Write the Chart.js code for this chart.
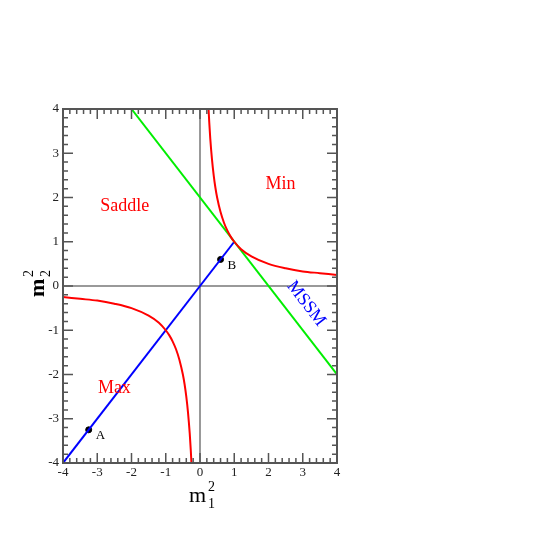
<!DOCTYPE html>
<html>
<head>
<meta charset="utf-8">
<script src="https://cdn.jsdelivr.net/npm/chart.js@4.4.0/dist/chart.umd.min.js"></script>
<style>
  html, body { margin: 0; padding: 0; background: #fff; }
  #wrap { width: 545px; height: 545px; }
</style>
</head>
<body>
<div id="wrap"><canvas id="chart" width="545" height="545"></canvas></div>
<script>
// assi
const xTicks = [-4, -3, -2, -1, 0, 1, 2, 3, 4];
const yTicks = [-4, -3, -2, -1, 0, 1, 2, 3, 4];
const xTickLabels = ['-4', '-3', '-2', '-1', '0', '1', '2', '3', '4'];
const yTickLabels = ['-4', '-3', '-2', '-1', '0', '1', '2', '3', '4'];

// iperbole (ramo superiore e inferiore)
const upperX = [0.25, 0.27, 0.3, 0.35, 0.4, 0.45, 0.5, 0.6, 0.7, 0.8, 0.9, 1, 1.2, 1.5, 2, 2.5, 3, 3.5, 4];
const upperY = [4, 3.7, 3.33, 2.86, 2.5, 2.22, 2, 1.67, 1.43, 1.25, 1.11, 1, 0.83, 0.67, 0.5, 0.4, 0.33, 0.29, 0.25];
const lowerX = [-4, -3.5, -3, -2.5, -2, -1.5, -1.2, -1, -0.9, -0.8, -0.7, -0.6, -0.5, -0.45, -0.4, -0.35, -0.3, -0.27, -0.25];
const lowerY = [-0.25, -0.29, -0.33, -0.4, -0.5, -0.67, -0.83, -1, -1.11, -1.25, -1.43, -1.67, -2, -2.22, -2.5, -2.86, -3.33, -3.7, -4];

// retta verde e retta blu
const greenX = [-2, 4];
const greenY = [4, -2];
const blueX = [-4, 1];
const blueY = [-4, 1];

// punti A e B
const pointNames = ['A', 'B'];
const pointX = [-3.25, 0.6];
const pointY = [-3.25, 0.6];

// etichette delle regioni
const regionNames = ['Saddle', 'Min', 'Max'];
const regionX = [-2.2, 2.35, -2.5];
const regionY = [1.8, 2.3, -2.3];

const toXY = (xs, ys) => xs.map((x, i) => ({ x: x, y: ys[i] }));

const SERIF = "'Liberation Serif', 'DejaVu Serif', serif";

// disegna cornice, tacche, etichette e titoli
const decorPlugin = {
  id: 'decor',
  beforeDatasetsDraw(chart) {
    const { ctx, chartArea: a, scales: { x, y } } = chart;
    ctx.save();
    // linee dello zero
    ctx.strokeStyle = '#999999';
    ctx.lineWidth = 2;
    ctx.beginPath();
    ctx.moveTo(x.getPixelForValue(0), a.top);
    ctx.lineTo(x.getPixelForValue(0), a.bottom);
    ctx.moveTo(a.left, y.getPixelForValue(0));
    ctx.lineTo(a.right, y.getPixelForValue(0));
    ctx.stroke();
    ctx.restore();
  },
  afterDatasetsDraw(chart) {
    const { ctx, chartArea: a, scales: { x, y } } = chart;
    ctx.save();
    ctx.strokeStyle = '#555555';
    ctx.lineWidth = 2;
    ctx.strokeRect(a.left, a.top, a.right - a.left, a.bottom - a.top);

    ctx.lineWidth = 1.5;
    ctx.beginPath();
    for (let v = -4; v <= 4.001; v += 0.2) {
      const major = Math.abs(v - Math.round(v)) < 0.01;
      const len = major ? 10 : 5;
      const px = x.getPixelForValue(v);
      const py = y.getPixelForValue(v);
      ctx.moveTo(px, a.bottom); ctx.lineTo(px, a.bottom - len);
      ctx.moveTo(px, a.top); ctx.lineTo(px, a.top + len);
      ctx.moveTo(a.left, py); ctx.lineTo(a.left + len, py);
      ctx.moveTo(a.right, py); ctx.lineTo(a.right - len, py);
    }
    ctx.stroke();

    // etichette delle tacche
    ctx.fillStyle = '#222222';
    ctx.font = '13px ' + SERIF;
    ctx.textAlign = 'center';
    ctx.textBaseline = 'top';
    xTicks.forEach((v, i) => ctx.fillText(xTickLabels[i], x.getPixelForValue(v), a.bottom + 3));
    ctx.textAlign = 'right';
    ctx.textBaseline = 'middle';
    yTicks.forEach((v, i) => ctx.fillText(yTickLabels[i], a.left - 4, y.getPixelForValue(v)));

    // regioni
    ctx.fillStyle = '#ff0000';
    ctx.font = '18px ' + SERIF;
    ctx.textAlign = 'center';
    regionNames.forEach((t, i) => ctx.fillText(t, x.getPixelForValue(regionX[i]), y.getPixelForValue(regionY[i])));

    // nomi dei punti
    ctx.fillStyle = '#000000';
    ctx.font = '13px ' + SERIF;
    ctx.textAlign = 'left';
    pointNames.forEach((t, i) => ctx.fillText(t, x.getPixelForValue(pointX[i]) + 7, y.getPixelForValue(pointY[i]) + 6));

    // MSSM ruotato
    ctx.save();
    ctx.translate(x.getPixelForValue(3.1), y.getPixelForValue(-0.4));
    ctx.rotate(52 * Math.PI / 180);
    ctx.fillStyle = '#0000ff';
    ctx.font = '18px ' + SERIF;
    ctx.textAlign = 'center';
    ctx.fillText('MSSM', 0, 0);
    ctx.restore();

    // titolo asse x
    ctx.fillStyle = '#000000';
    ctx.textAlign = 'left';
    ctx.textBaseline = 'alphabetic';
    const cx = x.getPixelForValue(0);
    ctx.font = '22px ' + SERIF;
    ctx.fillText('m', cx - 11, 502);
    ctx.font = '14px ' + SERIF;
    ctx.fillText('2', cx + 8, 491);
    ctx.fillText('1', cx + 8, 508);

    // titolo asse y
    ctx.save();
    ctx.translate(44, y.getPixelForValue(0));
    ctx.rotate(-Math.PI / 2);
    ctx.font = 'bold 22px ' + SERIF;
    ctx.fillText('m', -11, 0);
    ctx.font = '14px ' + SERIF;
    ctx.fillText('2', 9, -11);
    ctx.fillText('2', 9, 6);
    ctx.restore();

    ctx.restore();
  }
};

new Chart(document.getElementById('chart'), {
  type: 'scatter',
  data: {
    datasets: [
      { data: toXY(upperX, upperY), showLine: true, borderColor: '#ff0000', borderWidth: 2, pointRadius: 0, cubicInterpolationMode: 'monotone' },
      { data: toXY(lowerX, lowerY), showLine: true, borderColor: '#ff0000', borderWidth: 2, pointRadius: 0, cubicInterpolationMode: 'monotone' },
      { data: toXY(greenX, greenY), showLine: true, borderColor: '#00ee00', borderWidth: 2, pointRadius: 0 },
      { data: toXY(blueX, blueY), showLine: true, borderColor: '#0000ff', borderWidth: 2, pointRadius: 0 },
      { data: toXY(pointX, pointY), showLine: false, pointRadius: 3, pointBackgroundColor: '#000000', pointBorderColor: '#000000' }
    ]
  },
  options: {
    responsive: false,
    animation: false,
    layout: { padding: { left: 63, right: 208, top: 109, bottom: 82 } },
    plugins: { legend: { display: false }, tooltip: { enabled: false } },
    scales: {
      x: { type: 'linear', min: -4, max: 4, display: false },
      y: { type: 'linear', min: -4, max: 4, display: false }
    }
  },
  plugins: [decorPlugin]
});
</script>
</body>
</html>
